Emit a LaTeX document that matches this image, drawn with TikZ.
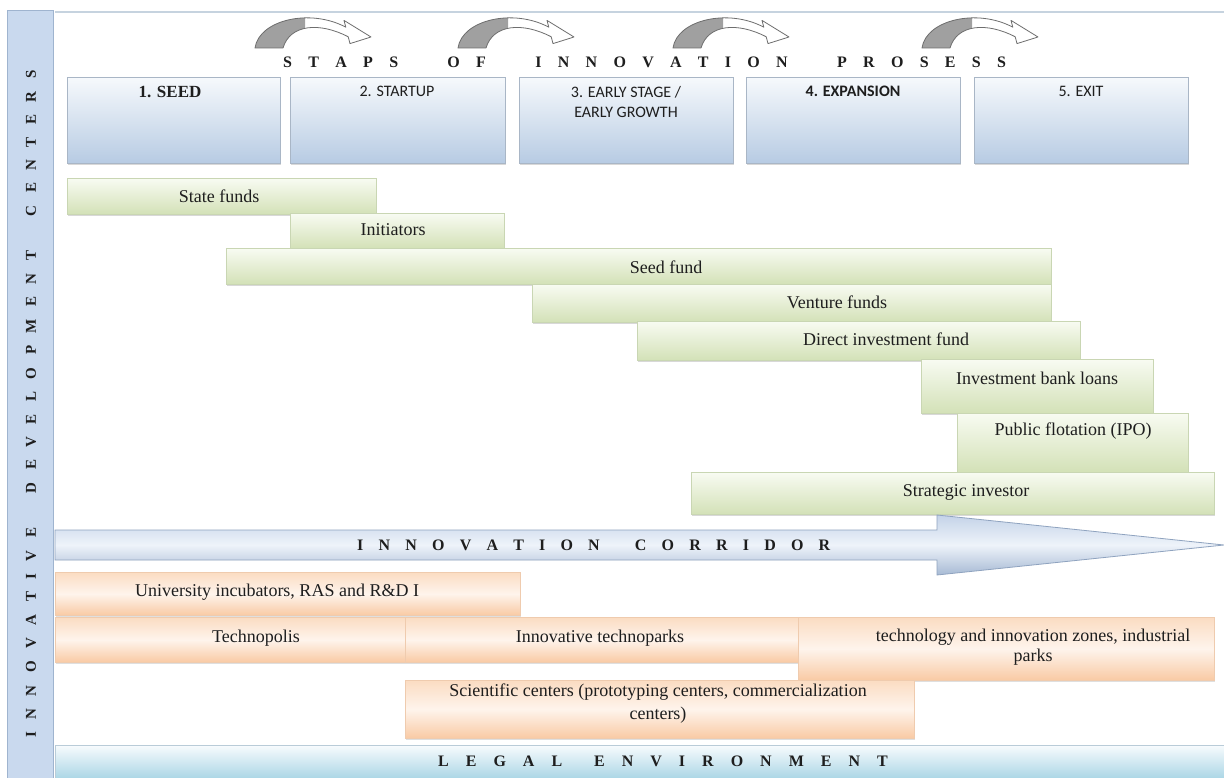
\documentclass[tikz,border=0pt]{standalone}
\usepackage{fontspec}
\setmainfont{Liberation Serif}
\newfontfamily\serifbold{Liberation Serif Bold}
\newfontfamily\carlfont{Carlito}
\usetikzlibrary{shadows}
\definecolor{boxtop}{HTML}{F6F9FC}
\definecolor{boxbot}{HTML}{B7CBE3}
\definecolor{boxline}{HTML}{A9B6C6}
\definecolor{greentop}{HTML}{F8FBF2}
\definecolor{greenbot}{HTML}{D3E1B7}
\definecolor{greenline}{HTML}{C9D6B3}
\definecolor{orangetop}{HTML}{FBDCC2}
\definecolor{orangemid}{HTML}{FEF4EC}
\definecolor{orangebot}{HTML}{F9CAA4}
\definecolor{orangeline}{HTML}{EFCBAE}
\definecolor{stripfill}{HTML}{C9D9EE}
\definecolor{stripline}{HTML}{9FB4CF}
\definecolor{corrtop}{HTML}{C4D3E8}
\definecolor{corrmid}{HTML}{EEF3FA}
\definecolor{corrbot}{HTML}{A7BAD4}
\definecolor{corrline}{HTML}{8FA3BF}
\definecolor{legaltop}{HTML}{F7FBFD}
\definecolor{legalbot}{HTML}{A9D5E5}
\definecolor{legalline}{HTML}{B9CCD8}
\definecolor{topline}{HTML}{C6D3DF}
\definecolor{txt}{HTML}{1E1E1E}
\definecolor{arrgrey}{HTML}{A0A0A0}
\definecolor{arrline}{HTML}{6E6E6E}
\newcommand\rbox[6]{\node[#2, anchor=north west, minimum width={#5-#3}, minimum height={#6-#4}] (#1) at (#3,#4) {};}
% letter-spaced text: \spacedtext{letter gap}{word gap}{LETTERS*WITH*STARS}
\newcommand\spacedtext[3]{\def\spls{#1}\def\spgap{#2}\spaceitaux#3\relax}
\def\spaceitaux#1{\ifx#1\relax\else\spaceone{#1}\expandafter\spaceitaux\fi}
\def\spaceone#1{\ifx#1*\hspace{\spgap}\else#1\hspace{\spls}\fi}
\tikzset{
  curvearrow/.pic={
    \begin{scope}
      \clip (-2,0) rectangle (50,50);
      \fill[arrgrey] (0,48) .. controls (4,20) and (55,8) .. (90.8,27.2) -- (89,20.4) -- (116,37) -- (95,43.6) -- (93.2,36.8) .. controls (65,22) and (35,24) .. (28,48) -- cycle;
    \end{scope}
    \draw[arrline, line width=0.8pt, line join=round] (0,48) .. controls (4,20) and (55,8) .. (90.8,27.2) -- (89,20.4) -- (116,37) -- (95,43.6) -- (93.2,36.8) .. controls (65,22) and (35,24) .. (28,48) -- cycle;
  }
}
\begin{document}
\begin{tikzpicture}[x=1pt,y=-1pt,
  stagebox/.style={draw=boxline, line width=0.7pt, top color=boxtop, bottom color=boxbot,
    drop shadow={shadow xshift=1pt, shadow yshift=-1.5pt, opacity=0.3}},
  gbar/.style={draw=greenline, line width=0.7pt, top color=greentop, bottom color=greenbot,
    drop shadow={shadow xshift=0.5pt, shadow yshift=-1.5pt, opacity=0.3}},
  obar/.style={draw=orangeline, line width=0.7pt, top color=orangetop, bottom color=orangebot, middle color=orangemid,
    drop shadow={shadow xshift=0.5pt, shadow yshift=-1.5pt, opacity=0.25}},
  strip/.style={draw=stripline, line width=0.8pt, fill=stripfill},
  legal/.style={draw=legalline, line width=0.7pt, top color=legaltop, bottom color=legalbot},
  lbl/.style={font=\fontsize{18}{23}\selectfont, text=txt, inner sep=0pt, align=center},
  stg/.style={font=\carlfont\fontsize{16}{20}\selectfont, text=txt, inner sep=0pt, align=center, anchor=north},
  spaced/.style={font=\serifbold\fontsize{16}{18}\selectfont, text=txt, inner sep=0pt},
]
\useasboundingbox (0,0) rectangle (1224,778);
\fill[white] (0,0) rectangle (1224,778);

% left strip
\rbox{strip}{strip}{7}{10}{53}{779}
\node[font=\serifbold\fontsize{15}{18}\selectfont, text=txt, inner sep=0pt, rotate=90] (vt) at (31,404)
  {\spacedtext{12.5pt}{22pt}{INNOVATIVE*DEVELOPMENT*CENTERS}};

% top rule
\draw[topline, line width=1.5pt] (55,12) -- (1224,12);

% curved arrows
\pic at (255,0) {curvearrow};
\pic at (458,0) {curvearrow};
\pic at (673,0) {curvearrow};
\pic at (922,0) {curvearrow};

% title
\node[spaced, anchor=west] (title) at (283,62)
  {\spacedtext{16.3pt}{33pt}{STAPS*OF*INNOVATION*PROSESS}};

% stage boxes
\rbox{s1}{stagebox}{67}{77}{280}{163}
\rbox{s2}{stagebox}{290}{77}{505}{163}
\rbox{s3}{stagebox}{519}{77}{733}{163}
\rbox{s4}{stagebox}{746}{77}{960}{163}
\rbox{s5}{stagebox}{974}{77}{1188}{163}
\node[stg, font=\serifbold\fontsize{17}{20}\selectfont] (t1) at (170,86) {1. SEED};
\node[stg] (t2) at (397,86) {2. STARTUP};
\node[stg] (t3) at (626,86) {3. EARLY STAGE /\\EARLY GROWTH};
\node[stg, font=\carlfont\bfseries\fontsize{16}{20}\selectfont] (t4) at (853,86) {4. EXPANSION};
\node[stg] (t5) at (1081,86) {5. EXIT};

% green bars
\rbox{sf}{gbar}{67}{178}{376}{214}
\rbox{ini}{gbar}{290}{213}{504}{248}
\rbox{seed}{gbar}{226}{248}{1051}{284}
\rbox{vf}{gbar}{532}{284}{1051}{322}
\rbox{dif}{gbar}{637}{321}{1080}{360}
\rbox{ibl}{gbar}{921}{359}{1153}{413}
\rbox{ipo}{gbar}{957}{413}{1188}{472}
\rbox{si}{gbar}{691}{472}{1214}{514}
\node[lbl] (lsf) at (219,196) {State funds};
\node[lbl] (lini) at (393,230) {Initiators};
\node[lbl] (lseed) at (666,267) {Seed fund};
\node[lbl] (lvf) at (837,302) {Venture funds};
\node[lbl] (ldif) at (886,339) {Direct investment fund};
\node[lbl] (libl) at (1037,378) {Investment bank loans};
\node[lbl] (lipo) at (1073,431) {Public flotation (IPO)};
\node[lbl] (lsi) at (966,492) {Strategic investor};

% innovation corridor
\path[draw=corrline, line width=0.8pt, top color=corrtop, bottom color=corrbot, middle color=corrmid]
  (55,530) -- (937,530) -- (937,515) -- (1224,545) -- (937,575) -- (937,560) -- (55,560) -- cycle;
\node[spaced, anchor=west] (corr) at (357,545) {\spacedtext{15.2pt}{20pt}{INNOVATION*CORRIDOR}};

% orange bars
\rbox{ui}{obar}{55}{572}{520}{615}
\rbox{tp}{obar}{55}{617}{405}{662}
\rbox{itp}{obar}{405}{617}{798}{662}
\rbox{tz}{obar}{798}{617}{1214}{680}
\rbox{sc}{obar}{405}{680}{914}{738}
\node[lbl] (lui) at (277,592) {University incubators, RAS and R\&D I};
\node[lbl] (ltp) at (256,638) {Technopolis};
\node[lbl] (litp) at (600,638) {Innovative technoparks};
\node[lbl, font=\fontsize{18}{20}\selectfont] (ltz) at (1033,647) {technology and innovation zones, industrial\\parks};
\node[lbl] (lsc) at (658,704) {Scientific centers (prototyping centers, commercialization\\centers)};

% legal environment
\rbox{le}{legal}{55}{745}{1225}{779}
\node[spaced, anchor=west] (llegal) at (438,761) {\spacedtext{17pt}{15pt}{LEGAL*ENVIRONMENT}};
\end{tikzpicture}
\end{document}
